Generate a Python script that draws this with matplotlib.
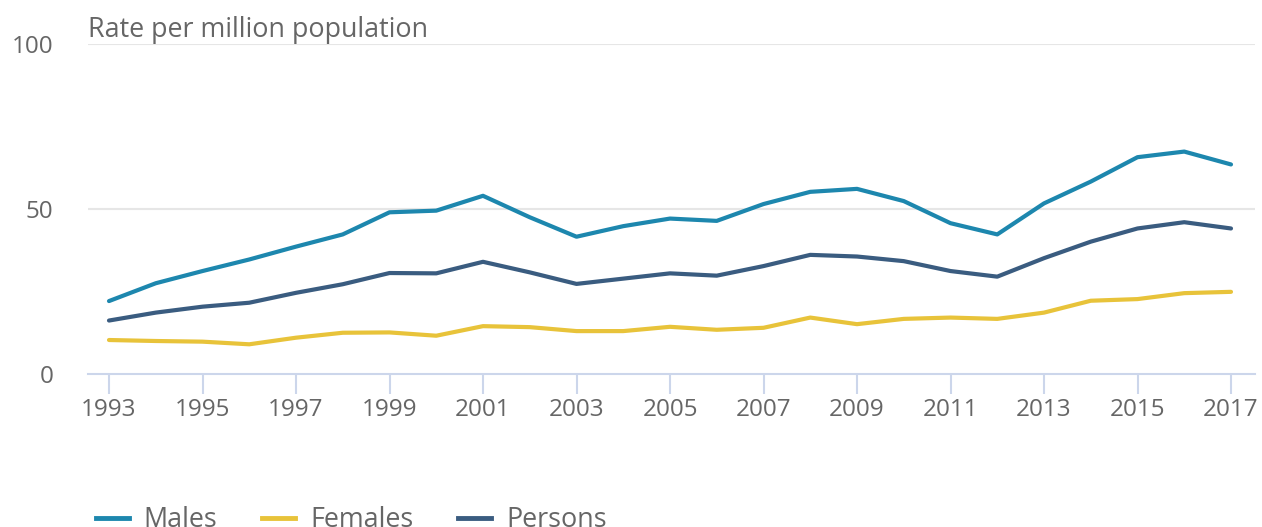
import matplotlib
matplotlib.use("Agg")
import matplotlib.pyplot as plt
from matplotlib.lines import Line2D
from matplotlib.transforms import offset_copy

years = list(range(1993, 2018))
males = [22.1, 27.5, 31.2, 34.7, 38.6, 42.3, 49.0, 49.5, 54.0, 47.5, 41.6, 44.8, 47.1,
         46.4, 51.5, 55.2, 56.1, 52.4, 45.7, 42.3, 51.7, 58.3, 65.7, 67.4, 63.5]
females = [10.3, 10.0, 9.8, 9.0, 11.0, 12.5, 12.6, 11.6, 14.5, 14.2, 13.0, 13.0, 14.3,
           13.4, 14.0, 17.1, 15.1, 16.7, 17.1, 16.7, 18.6, 22.2, 22.7, 24.5, 24.9]
persons = [16.2, 18.6, 20.4, 21.6, 24.6, 27.2, 30.6, 30.5, 34.0, 30.8, 27.3, 28.9, 30.5,
           29.8, 32.7, 36.1, 35.6, 34.2, 31.2, 29.5, 35.1, 40.1, 44.1, 46.0, 44.1]
series_names = ["Males", "Females", "Persons"]
colors = ["#1d87ae", "#e8c33a", "#3a5c80"]
y_ticks = [0, 50, 100]
x_ticks = list(range(1993, 2018, 2))
y_title = "Rate per million population"

plt.rcParams['font.family'] = ['Open Sans', 'DejaVu Sans']
text_color = "#666666"
fs = 17.5
fs_big = 19.4

fig = plt.figure(figsize=(12.62, 5.27), dpi=100)
ax = fig.add_axes([88/1262, 153/527, 1167/1262, 330/527])

for vals, c in zip([males, females, persons], colors):
    ax.plot(years, vals, color=c, lw=3, solid_capstyle='round', solid_joinstyle='round', zorder=3)

ax.set_xlim(1993 - 21/46.75, 2017 + 24/46.75)
ax.set_ylim(0, 100)
ax.set_yticks(y_ticks)
ax.set_xticks(x_ticks)
ax.set_xticklabels([str(y) for y in x_ticks])
for s in ['top', 'right', 'left']:
    ax.spines[s].set_visible(False)
ax.spines['bottom'].set_color('#ccd6eb')
ax.spines['bottom'].set_linewidth(1.5)
ax.spines['bottom'].set_zorder(2)
for yv in y_ticks[1:]:
    ax.axhline(yv, color='#e6e6e6', lw=1.5, zorder=1)
ax.tick_params(axis='y', length=0, pad=25, labelsize=fs, labelcolor=text_color)
ax.tick_params(axis='x', length=14.4, width=1.5, color='#ccd6eb', pad=3,
               labelsize=fs, labelcolor=text_color)

tr = offset_copy(ax.transAxes, fig=fig, x=0, y=5, units='points')
ax.text(0, 1, y_title, transform=tr, ha='left', va='baseline', fontsize=fs_big, color=text_color)

handles = [Line2D([], [], color=c, lw=3.5) for c in colors]
leg = fig.legend(handles, series_names, loc='center left', bbox_to_anchor=(96/1262, 7/527),
                 ncol=3, frameon=False, fontsize=fs_big, labelcolor=text_color,
                 handlelength=1.22, handletextpad=0.55, columnspacing=1.67, borderpad=0,
                 borderaxespad=0)

fig.savefig("out.png", dpi=100)
